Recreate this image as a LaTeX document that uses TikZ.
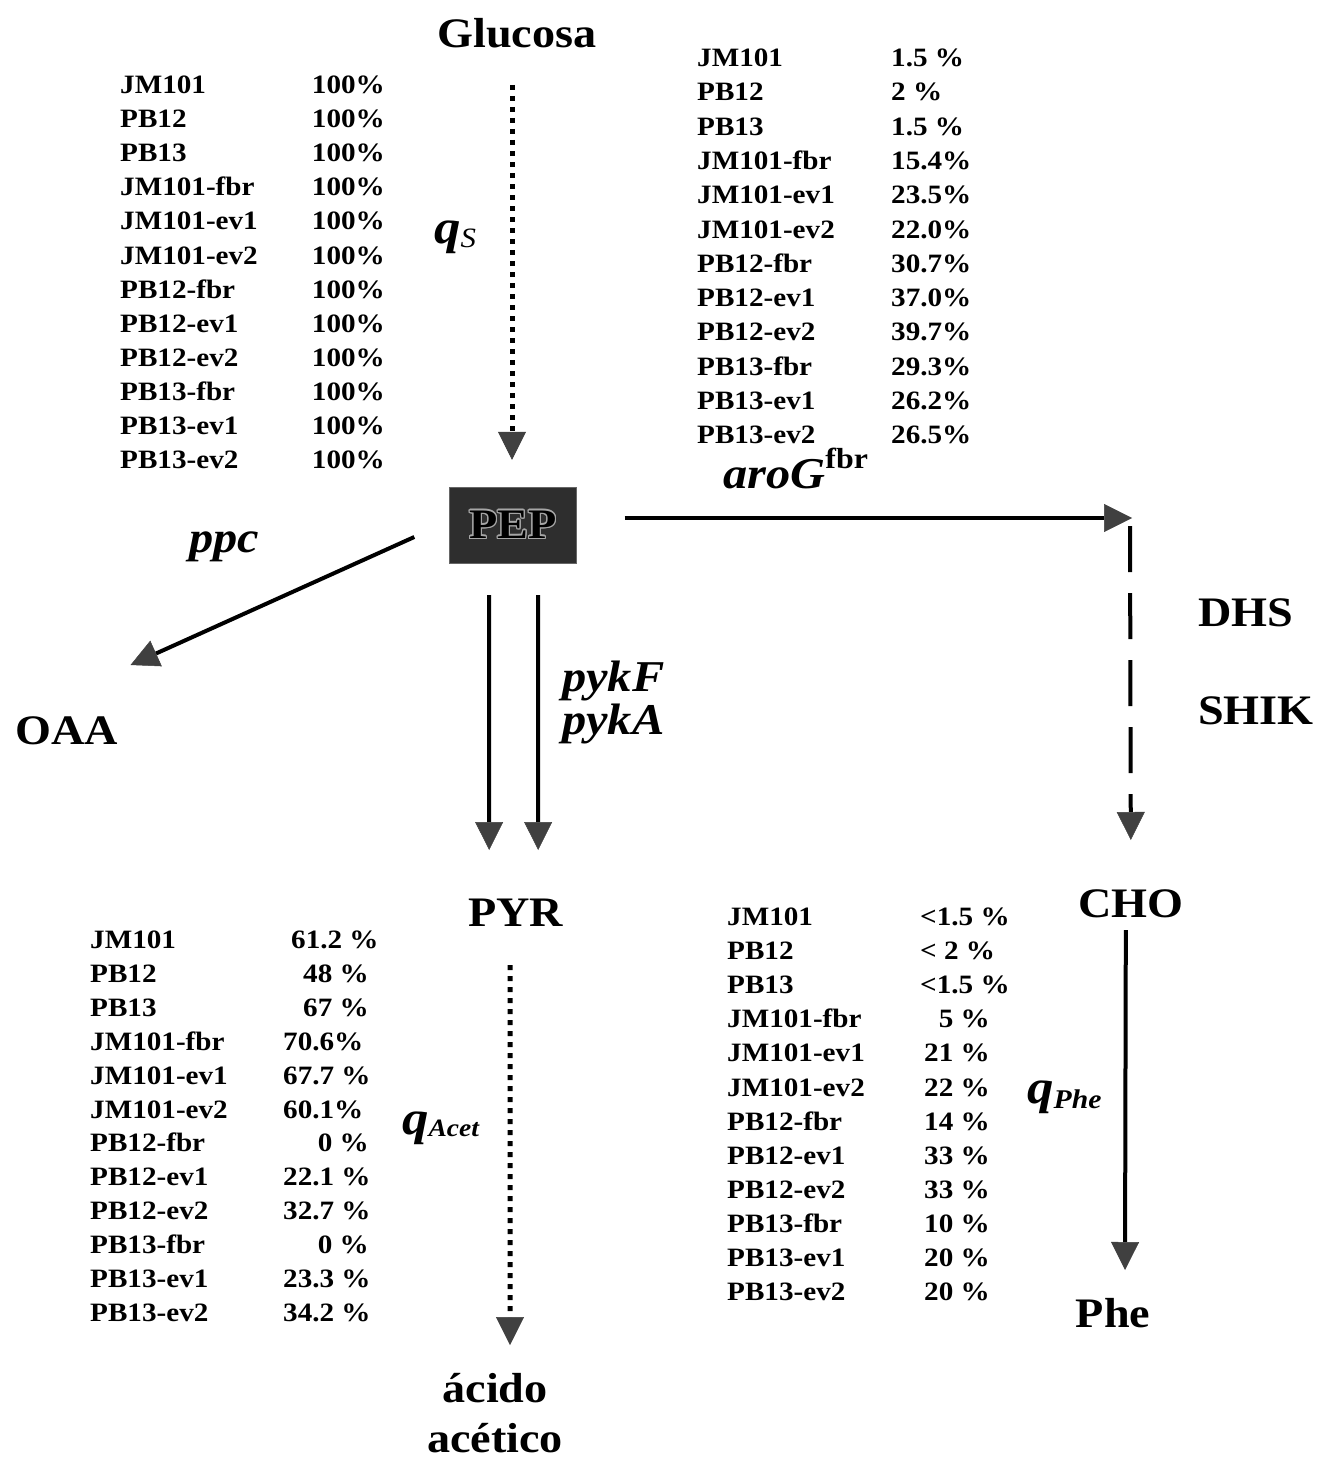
\documentclass[tikz,border=0pt]{standalone}
\usepackage{fontspec}
\setmainfont[FakeStretch=1.1]{Liberation Serif}
\usepackage{contour}
\contourlength{1.2pt}
\usetikzlibrary{arrows.meta,calc}
\begin{document}
\begin{tikzpicture}[x=1pt,y=-1pt,
  big/.style={font=\fontsize{42}{42}\selectfont\bfseries, inner sep=0pt},
  gene/.style={font=\fontsize{44}{44}\selectfont\bfseries\itshape, inner sep=0pt},
  rate/.style={font=\fontsize{48}{48}\selectfont\bfseries\itshape, inner sep=0pt},
  tab/.style={font=\fontsize{26.5}{26.5}\selectfont\bfseries, inner sep=0pt},
  tipp/.style={-{Triangle[length=28pt,width=28pt,color=black!75,line width=0.5pt]}},
  flux/.style={tipp, line width=4pt},
  dotflux/.style={tipp, line width=5pt, dash pattern=on 5pt off 6pt},
  dashflux/.style={tipp, line width=4pt, dash pattern=on 46pt off 21pt},
]
\useasboundingbox (0,0) rectangle (1319,1461);

% main metabolite labels
\node[big, anchor=base] (glucosa) at (517,48) {Glucosa};
\node[draw=black!60, fill=black!82, minimum width=127pt, minimum height=76pt, inner sep=0pt,
      font=\fontsize{42}{42}\selectfont\bfseries] (pep) at (513,525) {\contour{black!35}{PEP}};
\node[big, anchor=base west] (oaa) at (15,744) {OAA};
\node[big, anchor=base west] (pyr) at (468,926) {PYR};
\node[big, anchor=base west] (cho) at (1078,917) {CHO};
\node[big, anchor=base] (phe) at (1113,1327) {Phe};
\node[big, anchor=base west] (dhs) at (1198,626) {DHS};
\node[big, anchor=base west] (shik) at (1198,724) {SHIK};
\node[big, anchor=base] (acido) at (495,1402) {ácido};
\node[big, anchor=base] (acetico) at (495,1452) {acético};
\coordinate (br) at (1132,518);

% gene / rate labels
\node[gene, anchor=base] (ppc) at (224,552) {ppc};
\node[gene, anchor=base west] (pykf) at (562,691) {pykF};
\node[gene, anchor=base west] (pyka) at (562,734) {pykA};
\node[gene, anchor=base west] (arog) at (723,488) {aroG\raisebox{20pt}{\fontsize{29}{29}\selectfont\upshape fbr}};
\node[rate, anchor=base west] (qs) at (434,243) {q\raisebox{-4pt}{\fontsize{28}{28}\selectfont\mdseries\itshape S}};
\node[rate, anchor=base west] (qacet) at (402,1134) {q\raisebox{-2pt}{\fontsize{25}{25}\selectfont\itshape Acet}};
\node[rate, anchor=base west] (qphe) at (1027,1103) {q\raisebox{-5pt}{\fontsize{27}{27}\selectfont\itshape Phe}};

% connectors
\draw[dotflux] ($(glucosa.base)+(-5,37)$) -- ($(pep.north)+(-1,-27)$);
\draw[flux] ($(pep.east)+(48,-7)$) -- (br);
\draw[dashflux] ($(br)+(-2,8)$) -- ($(cho.base)+(0,-77)$);
\draw[flux] ($(cho.base)+(-5,13)$) -- ($(phe.base)+(12,-57)$);
\draw[flux] ($(pep.west)+(-35,12)$) -- ($(oaa.base)+(64,-79)$);
\draw[flux] ($(pep.south)+(-24,32)$) -- ($(pyr.base)+(-26.5,-76)$);
\draw[flux] ($(pep.south)+(25,32)$) -- ($(pyr.base)+(22.5,-76)$);
\draw[dotflux] ($(pyr.base)+(-5.5,39)$) -- ($(acido.base)+(15,-57)$);

% table: glucose uptake
\foreach \n [count=\i from 0] in {JM101,PB12,PB13,JM101-fbr,JM101-ev1,JM101-ev2,PB12-fbr,PB12-ev1,PB12-ev2,PB13-fbr,PB13-ev1,PB13-ev2}{
  \node[tab, anchor=base west] (tln\i) at (120,{93.5+34.1*\i}) {\n};
  \node[tab, anchor=base east] (tlv\i) at (385,{93.5+34.1*\i}) {100\%};
}
% table: aroG flux
\foreach \n/\v [count=\i from 0] in {JM101/1.5 \%,PB12/2 \%,PB13/1.5 \%,JM101-fbr/15.4\%,JM101-ev1/23.5\%,JM101-ev2/22.0\%,PB12-fbr/30.7\%,PB12-ev1/37.0\%,PB12-ev2/39.7\%,PB13-fbr/29.3\%,PB13-ev1/26.2\%,PB13-ev2/26.5\%}{
  \node[tab, anchor=base west] (trn\i) at (697,{66.5+34.3*\i}) {\n};
  \node[tab, anchor=base west] (trv\i) at (891,{66.5+34.3*\i}) {\v};
}
% table: acetate
\foreach \n/\v/\a/\x [count=\i from 0] in {JM101/61.2 \%/base west/291,PB12/48 \%/base east/369,PB13/67 \%/base east/369,JM101-fbr/70.6\%/base west/283,JM101-ev1/67.7 \%/base west/283,JM101-ev2/60.1\%/base west/283,PB12-fbr/0 \%/base east/369,PB12-ev1/22.1 \%/base west/283,PB12-ev2/32.7 \%/base west/283,PB13-fbr/0 \%/base east/369,PB13-ev1/23.3 \%/base west/283,PB13-ev2/34.2 \%/base west/283}{
  \node[tab, anchor=base west] (bln\i) at (90,{948.5+33.9*\i}) {\n};
  \node[tab, anchor=\a] (blv\i) at (\x,{948.5+33.9*\i}) {\v};
}
% table: Phe
\foreach \n/\v/\a/\x [count=\i from 0] in {JM101/<1.5 \%/base west/920,PB12/< 2 \%/base west/920,PB13/<1.5 \%/base west/920,JM101-fbr/5 \%/base east/990,JM101-ev1/21 \%/base east/990,JM101-ev2/22 \%/base east/990,PB12-fbr/14 \%/base east/990,PB12-ev1/33 \%/base east/990,PB12-ev2/33 \%/base east/990,PB13-fbr/10 \%/base east/990,PB13-ev1/20 \%/base east/990,PB13-ev2/20 \%/base east/990}{
  \node[tab, anchor=base west] (brn\i) at (727,{925.5+34.1*\i}) {\n};
  \node[tab, anchor=\a] (brv\i) at (\x,{925.5+34.1*\i}) {\v};
}
\end{tikzpicture}
\end{document}
